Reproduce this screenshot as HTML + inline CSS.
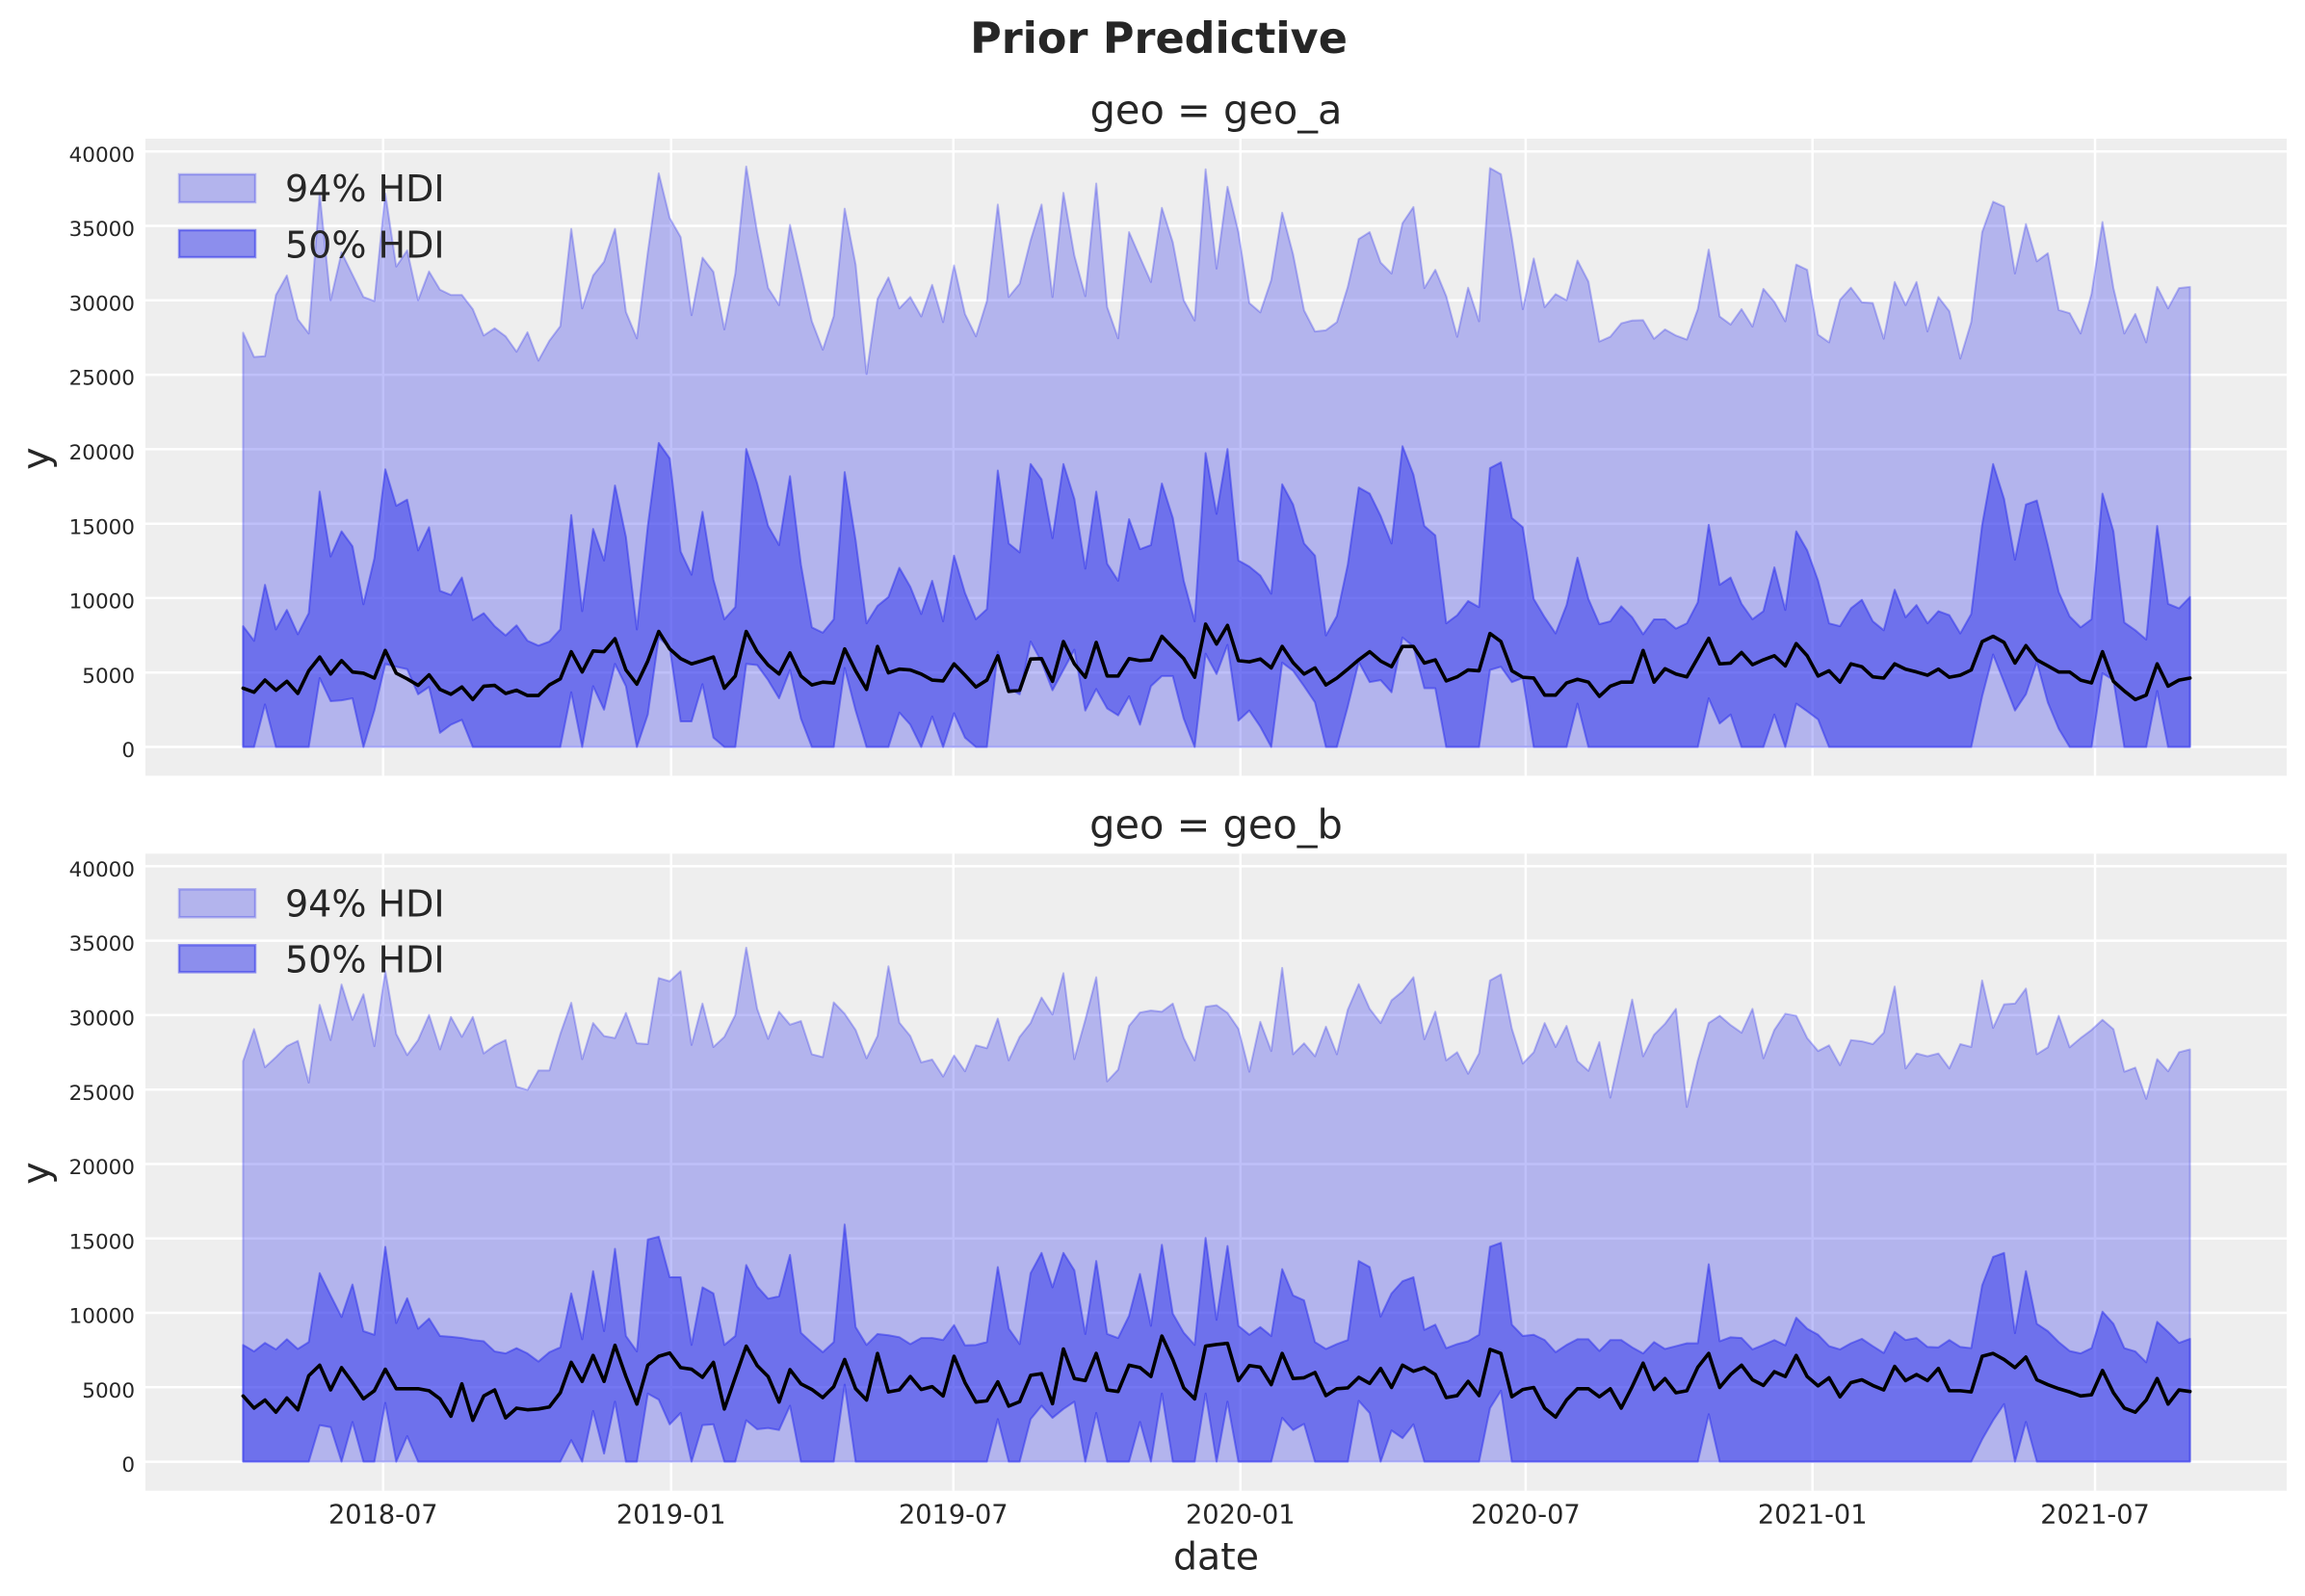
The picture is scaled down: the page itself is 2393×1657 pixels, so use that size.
<!DOCTYPE html>
<html><head><meta charset="utf-8">
<style>
html,body{margin:0;padding:0;background:#fff;}
svg{display:block;}
text{font-family:"DejaVu Sans","Liberation Sans",sans-serif;fill:#262626;}
.g{stroke:#fff;stroke-width:2.5;}
.p94{fill:#2a2eec;fill-opacity:0.3;stroke:#2a2eec;stroke-opacity:0.3;stroke-width:2;stroke-linejoin:round;vector-effect:non-scaling-stroke;}
.p50{fill:#2a2eec;fill-opacity:0.5;stroke:#2a2eec;stroke-opacity:0.5;stroke-width:2;stroke-linejoin:round;vector-effect:non-scaling-stroke;}
.mn{fill:none;stroke:#000;stroke-width:3.6;stroke-linejoin:round;stroke-linecap:round;vector-effect:non-scaling-stroke;}
.yt{font-size:21.5px;text-anchor:end;}
.xt{font-size:27.2px;text-anchor:middle;}
</style></head>
<body>
<svg width="2393" height="1657" viewBox="0 0 2393 1657" xmlns="http://www.w3.org/2000/svg">
<rect width="2393" height="1657" fill="#fff"/>
<text x="1203" y="55" font-size="44.5" font-weight="bold" text-anchor="middle">Prior Predictive</text>

<!-- ===== TOP AXES ===== -->
<rect x="151" y="144" width="2223" height="661.4" fill="#eeeeee"/>
<g class="g">
<line x1="151" x2="2374" y1="775.5" y2="775.5"/><line x1="151" x2="2374" y1="698.2" y2="698.2"/>
<line x1="151" x2="2374" y1="620.9" y2="620.9"/><line x1="151" x2="2374" y1="543.7" y2="543.7"/>
<line x1="151" x2="2374" y1="466.4" y2="466.4"/><line x1="151" x2="2374" y1="389.1" y2="389.1"/>
<line x1="151" x2="2374" y1="311.8" y2="311.8"/><line x1="151" x2="2374" y1="234.5" y2="234.5"/>
<line x1="151" x2="2374" y1="157.3" y2="157.3"/>
<line y1="144" y2="805.4" x1="397.8" x2="397.8"/><line y1="144" y2="805.4" x1="696.7" x2="696.7"/>
<line y1="144" y2="805.4" x1="989.8" x2="989.8"/><line y1="144" y2="805.4" x1="1287.8" x2="1287.8"/>
<line y1="144" y2="805.4" x1="1583.9" x2="1583.9"/><line y1="144" y2="805.4" x1="1881.7" x2="1881.7"/>
<line y1="144" y2="805.4" x1="2175" x2="2175"/>
</g>
<g class="yt">
<text x="140" y="786.1">0</text><text x="140" y="708.8">5000</text><text x="140" y="631.5">10000</text>
<text x="140" y="554.3">15000</text><text x="140" y="477">20000</text><text x="140" y="399.7">25000</text>
<text x="140" y="322.4">30000</text><text x="140" y="245.1">35000</text><text x="140" y="167.9">40000</text>
</g>
<g transform="translate(252.4 140) scale(11.355 0.42088)">
<path class="p94" d="M0 1510 0 488 1 548 2 546 3 395 4 347 5 455 6 490 7 145 8 408 9 290 10 345 11 400 12 410 13 145 14 325 15 285 16 408 17 337 18 382 19 395 20 395 21 430 22 495 23 477 24 497 25 535 26 487 27 557 28 508 29 472 30 232 31 428 32 347 33 313 34 232 35 437 36 502 37 290 38 95 39 205 40 252 41 445 42 303 43 338 44 480 45 342 46 78 47 240 48 378 49 420 50 222 51 340 52 460 53 530 54 447 55 182 56 320 57 590 58 405 59 352 60 428 61 400 62 448 63 370 64 462 65 322 66 442 67 497 68 410 69 172 70 400 71 367 72 260 73 172 74 400 75 143 76 298 77 398 78 120 79 425 80 502 81 240 82 302 83 363 84 180 85 265 86 408 87 458 88 85 89 330 90 128 91 240 92 415 93 438 94 358 95 192 96 295 97 433 98 485 99 482 100 462 101 375 102 257 103 240 104 315 105 342 106 218 107 178 108 378 109 333 110 398 111 498 112 377 113 460 114 82 115 97 116 255 117 430 118 305 119 425 120 393 121 408 122 310 123 362 124 510 125 498 126 465 127 458 128 457 129 503 130 480 131 495 132 505 133 430 134 283 135 448 136 468 137 430 138 473 139 380 140 412 141 460 142 320 143 333 144 493 145 512 146 407 147 377 148 413 149 415 150 503 151 363 152 420 153 363 154 485 155 400 156 435 157 552 158 462 159 240 160 165 161 177 162 342 163 220 164 312 165 292 166 432 167 440 168 490 169 392 170 215 171 378 172 490 173 442 174 512 175 375 176 428 177 378 178 375 178 1510Z"/>
<path class="p50" d="M0 1212 1 1248 2 1110 3 1220 4 1172 5 1232 6 1180 7 880 8 1040 9 978 10 1015 11 1158 12 1045 13 825 14 915 15 900 16 1025 17 968 18 1125 19 1135 20 1092 21 1197 22 1180 23 1212 24 1235 25 1210 26 1248 27 1260 28 1250 29 1220 30 938 31 1175 32 972 33 1050 34 865 35 992 36 1220 37 965 38 760 39 798 40 1028 41 1085 42 930 43 1097 44 1195 45 1165 46 775 47 860 48 965 49 1012 50 842 51 1060 52 1215 53 1228 54 1195 55 832 56 1000 57 1205 58 1162 59 1140 60 1068 61 1115 62 1182 63 1100 64 1200 65 1038 66 1130 67 1195 68 1170 69 828 70 1008 71 1030 72 812 73 850 74 995 75 812 76 898 77 1070 78 880 79 1058 80 1100 81 948 82 1022 83 1012 84 860 85 945 86 1100 87 1200 88 785 89 935 90 775 91 1050 92 1065 93 1087 94 1132 95 862 96 912 97 1008 98 1038 99 1235 100 1187 101 1060 102 870 103 885 104 940 105 1008 106 768 107 838 108 965 109 988 110 1205 111 1185 112 1150 113 1165 114 822 115 808 116 945 117 968 118 1145 119 1190 120 1230 121 1160 122 1043 123 1145 124 1207 125 1200 126 1163 127 1190 128 1232 129 1195 130 1195 131 1218 132 1205 133 1153 134 962 135 1110 136 1092 137 1157 138 1195 139 1175 140 1067 141 1172 142 978 143 1025 144 1100 145 1205 146 1212 147 1168 148 1147 149 1200 150 1222 151 1122 152 1190 153 1160 154 1205 155 1175 156 1185 157 1230 158 1182 159 962 160 812 161 898 162 1048 163 912 164 902 165 1012 166 1128 167 1188 168 1215 169 1195 170 885 171 978 172 1203 173 1222 174 1245 175 965 176 1157 177 1168 178 1140 178 1510 176 1510 175 1372 174 1510 172 1510 171 1345 170 1328 169 1510 167 1510 166 1465 165 1400 164 1300 163 1380 162 1420 161 1350 160 1282 159 1385 158 1510 145 1510 144 1442 143 1422 142 1403 141 1510 140 1430 139 1510 137 1510 136 1430 135 1452 134 1390 133 1510 123 1510 122 1403 121 1510 118 1510 117 1340 116 1350 115 1312 114 1320 113 1510 110 1510 109 1365 108 1365 107 1262 106 1240 105 1375 104 1345 103 1350 102 1300 101 1410 100 1510 99 1510 98 1400 97 1360 96 1322 95 1302 94 1510 93 1460 92 1420 91 1445 90 1258 89 1330 88 1280 87 1510 86 1440 85 1335 84 1335 83 1360 82 1455 81 1385 80 1432 79 1415 78 1367 77 1420 76 1270 75 1320 74 1370 73 1300 72 1250 71 1380 70 1365 69 1275 68 1510 67 1510 66 1487 65 1427 64 1510 63 1435 62 1510 61 1455 60 1425 59 1510 57 1510 56 1420 55 1315 54 1510 52 1510 51 1440 50 1320 49 1390 48 1345 47 1308 46 1305 45 1510 44 1510 43 1487 42 1355 41 1447 40 1447 39 1265 38 1240 37 1430 36 1510 35 1360 34 1305 33 1418 32 1360 31 1510 30 1375 29 1510 21 1510 20 1443 19 1455 18 1475 17 1362 16 1380 15 1318 14 1312 13 1305 12 1420 11 1510 10 1390 9 1395 8 1397 7 1340 6 1510 3 1510 2 1405 1 1510 0 1510Z"/>
<path class="mn" d="M0 1365 1 1375 2 1345 3 1370 4 1348 5 1378 6 1322 7 1288 8 1330 9 1297 10 1325 11 1328 12 1340 13 1272 14 1328 15 1342 16 1358 17 1332 18 1368 19 1380 20 1362 21 1393 22 1360 23 1358 24 1378 25 1370 26 1383 27 1383 28 1357 29 1342 30 1275 31 1325 32 1273 33 1275 34 1243 35 1320 36 1355 37 1298 38 1225 39 1268 40 1292 41 1305 42 1297 43 1288 44 1365 45 1335 46 1225 47 1275 48 1308 49 1330 50 1278 51 1335 52 1357 53 1350 54 1352 55 1268 56 1322 57 1368 58 1262 59 1327 60 1318 61 1320 62 1330 63 1345 64 1347 65 1305 66 1333 67 1362 68 1345 69 1285 70 1373 71 1370 72 1293 73 1292 74 1348 75 1250 76 1305 77 1338 78 1252 79 1335 80 1335 81 1292 82 1297 83 1295 84 1237 85 1265 86 1292 87 1338 88 1207 89 1256 90 1210 91 1297 92 1300 93 1293 94 1315 95 1262 96 1302 97 1330 98 1315 99 1357 100 1340 101 1318 102 1295 103 1275 104 1298 105 1312 106 1262 107 1262 108 1303 109 1295 110 1347 111 1337 112 1320 113 1322 114 1230 115 1250 116 1322 117 1338 118 1340 119 1382 120 1382 121 1352 122 1343 123 1350 124 1385 125 1360 126 1350 127 1350 128 1272 129 1350 130 1317 131 1330 132 1337 133 1290 134 1242 135 1305 136 1303 137 1277 138 1307 139 1295 140 1285 141 1310 142 1255 143 1285 144 1335 145 1322 146 1350 147 1305 148 1312 149 1337 150 1340 151 1305 152 1318 153 1325 154 1333 155 1318 156 1338 157 1333 158 1320 159 1250 160 1237 161 1252 162 1303 163 1260 164 1295 165 1310 166 1325 167 1325 168 1345 169 1352 170 1275 171 1348 172 1372 173 1393 174 1382 175 1305 176 1360 177 1345 178 1340"/>
</g>
<rect x="186" y="181" width="79" height="29" fill="#2a2eec" fill-opacity="0.3" stroke="#2a2eec" stroke-opacity="0.3" stroke-width="2.5"/>
<rect x="186" y="239" width="79" height="28" fill="#2a2eec" fill-opacity="0.5" stroke="#2a2eec" stroke-opacity="0.5" stroke-width="2.5"/>
<text x="296" y="209" font-size="38">94% HDI</text>
<text x="296" y="267.3" font-size="38">50% HDI</text>
<text x="1262.5" y="128.3" font-size="41.5" text-anchor="middle">geo = geo_a</text>
<text transform="translate(51 476) rotate(-90)" font-size="39.5" text-anchor="middle">y</text>

<!-- ===== BOTTOM AXES ===== -->
<rect x="151" y="886.3" width="2223" height="661.4" fill="#eeeeee"/>
<g class="g">
<line x1="151" x2="2374" y1="1517.6" y2="1517.6"/><line x1="151" x2="2374" y1="1440.3" y2="1440.3"/>
<line x1="151" x2="2374" y1="1363" y2="1363"/><line x1="151" x2="2374" y1="1285.8" y2="1285.8"/>
<line x1="151" x2="2374" y1="1208.5" y2="1208.5"/><line x1="151" x2="2374" y1="1131.2" y2="1131.2"/>
<line x1="151" x2="2374" y1="1053.9" y2="1053.9"/><line x1="151" x2="2374" y1="976.6" y2="976.6"/>
<line x1="151" x2="2374" y1="899.4" y2="899.4"/>
<line y1="886.3" y2="1547.7" x1="397.8" x2="397.8"/><line y1="886.3" y2="1547.7" x1="696.7" x2="696.7"/>
<line y1="886.3" y2="1547.7" x1="989.8" x2="989.8"/><line y1="886.3" y2="1547.7" x1="1287.8" x2="1287.8"/>
<line y1="886.3" y2="1547.7" x1="1583.9" x2="1583.9"/><line y1="886.3" y2="1547.7" x1="1881.7" x2="1881.7"/>
<line y1="886.3" y2="1547.7" x1="2175" x2="2175"/>
</g>
<g class="yt">
<text x="140" y="1528.2">0</text><text x="140" y="1450.9">5000</text><text x="140" y="1373.6">10000</text>
<text x="140" y="1296.4">15000</text><text x="140" y="1219.1">20000</text><text x="140" y="1141.8">25000</text>
<text x="140" y="1064.5">30000</text><text x="140" y="987.2">35000</text><text x="140" y="910">40000</text>
</g>
<g transform="translate(252.4 882) scale(11.355 0.42088)">
<path class="p94" d="M0 1510 0 522 1 443 2 537 3 512 4 485 5 472 6 575 7 383 8 470 9 333 10 420 11 357 12 485 13 300 14 455 15 507 16 470 17 408 18 493 19 413 20 462 21 413 22 503 23 483 24 470 25 585 26 593 27 545 28 545 29 455 30 378 31 517 32 428 33 460 34 465 35 403 36 478 37 480 38 317 39 325 40 300 41 482 42 380 43 487 44 462 45 408 46 242 47 393 48 467 49 400 50 432 51 423 52 505 53 512 54 377 55 405 56 445 57 515 58 460 59 288 60 427 61 460 62 525 63 518 64 560 65 508 66 547 67 483 68 490 69 417 70 520 71 462 72 428 73 365 74 407 75 305 76 517 77 420 78 315 79 572 80 543 81 435 82 402 83 397 84 400 85 380 86 465 87 520 88 388 89 384 90 403 91 442 92 548 93 425 94 497 95 292 96 505 97 478 98 510 99 437 100 505 101 395 102 332 103 393 104 428 105 372 106 350 107 315 108 468 109 400 110 520 111 500 112 553 113 503 114 323 115 308 116 442 117 528 118 500 119 428 120 487 121 435 122 522 123 546 124 475 125 612 126 490 127 370 128 510 129 457 130 430 131 393 132 635 133 520 134 428 135 410 136 433 137 452 138 393 139 515 140 445 141 405 142 410 143 465 144 497 145 483 146 532 147 470 148 473 149 480 150 452 151 338 152 540 153 503 154 510 155 503 156 540 157 480 158 487 159 323 160 440 161 382 162 380 163 343 164 505 165 488 166 410 167 488 168 465 169 445 170 420 171 443 172 548 173 538 174 615 175 517 176 547 177 500 178 493 178 1510Z"/>
<path class="p50" d="M0 1222 1 1238 2 1217 3 1233 4 1208 5 1232 6 1215 7 1045 8 1100 9 1153 10 1073 11 1188 12 1197 13 980 14 1168 15 1107 16 1182 17 1157 18 1200 19 1202 20 1205 21 1210 22 1213 23 1238 24 1243 25 1230 26 1243 27 1263 28 1240 29 1228 30 1095 31 1208 32 1040 33 1188 34 985 35 1200 36 1238 37 962 38 955 39 1055 40 1055 41 1222 42 1080 43 1095 44 1222 45 1200 46 1025 47 1078 48 1108 49 1102 50 1000 51 1192 52 1217 53 1240 54 1215 55 925 56 1178 57 1222 58 1195 59 1198 60 1203 61 1220 62 1205 63 1205 64 1210 65 1173 66 1223 67 1222 68 1215 69 1030 70 1182 71 1220 72 1045 73 995 74 1080 75 995 76 1038 77 1195 78 1015 79 1195 80 1205 81 1150 82 1047 83 1175 84 975 85 1145 86 1192 87 1222 88 958 89 1160 90 978 91 1175 92 1197 93 1178 94 1200 95 1035 96 1100 97 1112 98 1215 99 1232 100 1220 101 1210 102 1015 103 1030 104 1152 105 1095 106 1065 107 1055 108 1185 109 1172 110 1230 111 1220 112 1213 113 1197 114 980 115 970 116 1172 117 1200 118 1197 119 1210 120 1240 121 1222 122 1208 123 1208 124 1237 125 1210 126 1210 127 1228 128 1243 129 1215 130 1232 131 1225 132 1218 133 1218 134 1023 135 1213 136 1203 137 1205 138 1233 139 1222 140 1210 141 1223 142 1155 143 1182 144 1197 145 1225 146 1233 147 1218 148 1207 149 1225 150 1242 151 1190 152 1210 153 1205 154 1227 155 1228 156 1210 157 1227 158 1230 159 1075 160 1005 161 995 162 1193 163 1040 164 1170 165 1188 166 1215 167 1237 168 1243 169 1230 170 1140 171 1170 172 1230 173 1238 174 1265 175 1165 176 1190 177 1217 178 1207 178 1510 164 1510 163 1412 162 1510 161 1368 160 1408 159 1455 158 1510 135 1510 134 1393 133 1510 116 1510 115 1335 114 1378 113 1510 108 1510 107 1418 106 1452 105 1433 104 1510 103 1390 102 1360 101 1510 98 1510 97 1417 96 1432 95 1402 94 1510 91 1510 90 1362 89 1510 88 1342 87 1510 85 1510 84 1342 83 1510 82 1412 81 1510 79 1510 78 1390 77 1510 76 1362 75 1380 74 1402 73 1372 72 1405 71 1510 70 1510 69 1405 68 1510 56 1510 55 1320 54 1510 51 1510 50 1372 49 1432 48 1427 47 1430 46 1408 45 1510 44 1510 43 1418 42 1420 41 1510 40 1390 39 1418 38 1357 37 1342 36 1510 35 1510 34 1362 33 1490 32 1385 31 1510 30 1457 29 1510 16 1510 15 1447 14 1510 13 1365 12 1510 11 1510 10 1412 9 1510 8 1425 7 1420 6 1510 0 1510Z"/>
<path class="mn" d="M0 1348 1 1378 2 1358 3 1388 4 1353 5 1382 6 1298 7 1272 8 1333 9 1278 10 1315 11 1355 12 1335 13 1282 14 1330 15 1330 16 1330 17 1335 18 1355 19 1398 20 1318 21 1408 22 1348 23 1333 24 1402 25 1378 26 1382 27 1380 28 1375 29 1340 30 1265 31 1312 32 1248 33 1312 34 1223 35 1300 36 1368 37 1272 38 1250 39 1242 40 1278 41 1282 42 1302 43 1265 44 1380 45 1302 46 1225 47 1273 48 1300 49 1363 50 1283 51 1318 52 1332 53 1352 54 1325 55 1258 56 1330 57 1358 58 1243 59 1338 60 1333 61 1300 62 1332 63 1325 64 1348 65 1250 66 1315 67 1363 68 1360 69 1313 70 1373 71 1362 72 1297 73 1293 74 1367 75 1232 76 1305 77 1310 78 1243 79 1333 80 1337 81 1272 82 1278 83 1300 84 1200 85 1258 86 1328 87 1355 88 1225 89 1221 90 1218 91 1310 92 1273 93 1277 94 1320 95 1243 96 1305 97 1303 98 1290 99 1347 100 1330 101 1328 102 1302 103 1317 104 1280 105 1327 106 1272 107 1287 108 1278 109 1295 110 1352 111 1347 112 1312 113 1347 114 1233 115 1243 116 1350 117 1332 118 1327 119 1378 120 1400 121 1358 122 1330 123 1330 124 1350 125 1330 126 1378 127 1325 128 1267 129 1332 130 1305 131 1340 132 1335 133 1277 134 1243 135 1327 136 1295 137 1272 138 1308 139 1322 140 1288 141 1300 142 1248 143 1300 144 1323 145 1303 146 1350 147 1315 148 1308 149 1322 150 1333 151 1275 152 1310 153 1295 154 1310 155 1280 156 1335 157 1335 158 1338 159 1250 160 1243 161 1258 162 1278 163 1252 164 1308 165 1320 166 1330 167 1338 168 1348 169 1345 170 1285 171 1340 172 1378 173 1388 174 1358 175 1305 176 1368 177 1333 178 1337"/>
</g>
<rect x="186" y="923.3" width="79" height="29" fill="#2a2eec" fill-opacity="0.3" stroke="#2a2eec" stroke-opacity="0.3" stroke-width="2.5"/>
<rect x="186" y="981.3" width="79" height="28" fill="#2a2eec" fill-opacity="0.5" stroke="#2a2eec" stroke-opacity="0.5" stroke-width="2.5"/>
<text x="296" y="951.3" font-size="38">94% HDI</text>
<text x="296" y="1009.6" font-size="38">50% HDI</text>
<text x="1262.5" y="870.6" font-size="41.5" text-anchor="middle">geo = geo_b</text>
<text transform="translate(51 1218) rotate(-90)" font-size="39.5" text-anchor="middle">y</text>

<g class="xt">
<text x="397.8" y="1581.3">2018-07</text><text x="696.7" y="1581.3">2019-01</text>
<text x="989.8" y="1581.3">2019-07</text><text x="1287.8" y="1581.3">2020-01</text>
<text x="1583.9" y="1581.3">2020-07</text><text x="1881.7" y="1581.3">2021-01</text>
<text x="2175" y="1581.3">2021-07</text>
</g>
<text x="1262.5" y="1629.3" font-size="39.5" text-anchor="middle">date</text>
</svg>
</body></html>
